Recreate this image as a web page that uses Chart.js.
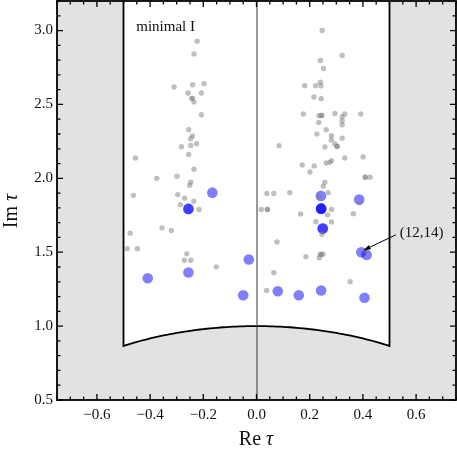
<!DOCTYPE html>
<html>
<head>
<meta charset="utf-8">
<script src="https://cdn.jsdelivr.net/npm/chart.js@4.4.1/dist/chart.umd.min.js"></script>
<style>
  body { margin: 0; background: #fff; }
  canvas { display: block; }
</style>
</head>
<body>
<canvas id="grafico" width="457" height="453"></canvas>
<script>
// puntos grises (Re tau, Im tau)
const greyX = [-0.223, -0.235, -0.310, -0.240, -0.197, -0.257, -0.207, -0.242, -0.242, -0.235,
  -0.207, -0.255, -0.241, -0.248, -0.282, -0.247, -0.225, -0.455, -0.255, -0.235,
  -0.375, -0.299, -0.247, -0.251, -0.463, -0.296, -0.270, -0.236, -0.286, -0.216,
  -0.355, -0.320, -0.475, -0.486, -0.448, -0.262, -0.271, -0.247, -0.151,
  0.247, 0.322, 0.240, 0.252, 0.181, 0.222, 0.240, 0.242, 0.216, 0.243,
  0.176, 0.235, 0.245, 0.245, 0.295, 0.322, 0.332, 0.392, 0.234, 0.322,
  0.322, 0.227, 0.262, 0.282, 0.322, 0.281, 0.295, 0.303, 0.303, 0.085,
  0.257, 0.172, 0.217, 0.262, 0.282, 0.276, 0.332, 0.401, 0.201, 0.409,
  0.409, 0.427, 0.257, 0.251, 0.269, 0.039, 0.065, 0.125, 0.018, 0.041,
  0.041, 0.166, 0.282, 0.267, 0.364, 0.223, 0.282, 0.246, 0.077, 0.186,
  0.239, 0.250, 0.243, 0.236, 0.065, 0.352, 0.038, 0.414, 0.234, 0.388];
const greyY = [2.928, 2.841, 2.618, 2.633, 2.640, 2.577, 2.577, 2.541, 2.541, 2.516,
  2.430, 2.329, 2.286, 2.268, 2.214, 2.223, 2.234, 2.138, 2.162, 2.061,
  2.000, 2.014, 1.973, 1.953, 1.885, 1.890, 1.865, 1.845, 1.822, 1.789,
  1.665, 1.647, 1.628, 1.524, 1.524, 1.489, 1.446, 1.446, 1.401,
  3.000, 2.831, 2.797, 2.743, 2.626, 2.626, 2.651, 2.626, 2.550, 2.539,
  2.435, 2.424, 2.426, 2.426, 2.439, 2.417, 2.435, 2.435, 2.378, 2.390,
  2.363, 2.300, 2.329, 2.289, 2.272, 2.260, 2.232, 2.216, 2.216, 2.221,
  2.212, 2.091, 2.084, 2.104, 2.120, 2.108, 2.138, 2.145, 2.043, 2.007,
  2.007, 2.007, 1.973, 1.946, 1.903, 1.897, 1.897, 1.903, 1.789, 1.789,
  1.789, 1.759, 1.789, 1.753, 1.761, 1.707, 1.705, 1.622, 1.569, 1.469,
  1.484, 1.486, 1.486, 1.462, 1.361, 1.300, 1.241, 1.505, 1.876, 1.834];

// puntos azules (los repetidos se ven más oscuros)
const blueX = [-0.166, -0.256, -0.256, -0.409, -0.256, -0.029, -0.050, 0.242, 0.243, 0.243,
  0.243, 0.386, 0.249, 0.249, 0.394, 0.414, 0.080, 0.159, 0.243, 0.406];
const blueY = [1.903, 1.793, 1.793, 1.324, 1.363, 1.451, 1.209, 1.881, 1.795, 1.795,
  1.795, 1.856, 1.660, 1.660, 1.500, 1.482, 1.236, 1.209, 1.241, 1.192];

const xTicks = [-0.6, -0.4, -0.2, 0.0, 0.2, 0.4, 0.6];
const yTicks = [0.5, 1.0, 1.5, 2.0, 2.5, 3.0];
const xRange = [-0.75, 0.75];
const yRange = [0.5, 3.2];

const etiqueta = '(12,14)';
const etiquetaPos = [0.539, 1.633];
const flechaDesde = [0.524, 1.618];
const flechaHasta = [0.404, 1.515];
const titulo = 'minimal I';
const tituloPos = [-0.452, 3.025];

const serif = '"Liberation Serif", "DejaVu Serif", serif';

const dominio = {
  id: 'dominio',
  beforeDatasetsDraw(chart) {
    const { ctx, chartArea: a, scales: { x, y } } = chart;
    ctx.save();
    ctx.fillStyle = '#e2e2e2';
    ctx.fillRect(a.left, a.top, a.width, a.height);

    // region fundamental |Re| <= 1/2, |tau| >= 1
    ctx.beginPath();
    ctx.moveTo(x.getPixelForValue(-0.5), a.top);
    for (let i = 0; i <= 80; i++) {
      const t = -0.5 + i / 80;
      ctx.lineTo(x.getPixelForValue(t), y.getPixelForValue(Math.sqrt(1 - t * t)));
    }
    ctx.lineTo(x.getPixelForValue(0.5), a.top);
    ctx.fillStyle = '#fff';
    ctx.fill();
    ctx.strokeStyle = '#000';
    ctx.lineWidth = 1.8;
    ctx.stroke();

    // eje Re = 0
    ctx.beginPath();
    ctx.moveTo(x.getPixelForValue(0) + 0.5, a.top);
    ctx.lineTo(x.getPixelForValue(0) + 0.5, a.bottom);
    ctx.strokeStyle = '#333';
    ctx.lineWidth = 1;
    ctx.stroke();
    ctx.restore();
  },
  afterDraw(chart) {
    const { ctx, chartArea: a, scales: { x, y } } = chart;
    ctx.save();
    ctx.strokeStyle = '#000';

    // marcas hacia dentro en los cuatro lados
    ctx.lineWidth = 1.3;
    ctx.beginPath();
    for (let k = 0; k <= 30; k++) {
      const v = xRange[0] + k * 0.05;
      const major = Math.abs(Math.round(v * 5) - v * 5) < 1e-6;
      const len = major ? 6 : 3.5;
      const px = x.getPixelForValue(v);
      ctx.moveTo(px, a.bottom); ctx.lineTo(px, a.bottom - len);
      ctx.moveTo(px, a.top); ctx.lineTo(px, a.top + len);
    }
    for (let k = 0; k <= 27; k++) {
      const v = yRange[0] + k * 0.1;
      const major = Math.abs(Math.round(v * 2) - v * 2) < 1e-6;
      const len = major ? 6 : 3.5;
      const py = y.getPixelForValue(v);
      ctx.moveTo(a.left, py); ctx.lineTo(a.left + len, py);
      ctx.moveTo(a.right, py); ctx.lineTo(a.right - len, py);
    }
    ctx.stroke();

    // marco
    ctx.lineWidth = 1.8;
    ctx.strokeRect(a.left, a.top, a.width, a.height);

    // textos
    ctx.fillStyle = '#111';
    ctx.font = '15px ' + serif;
    ctx.textBaseline = 'middle';
    ctx.textAlign = 'left';
    ctx.fillText(titulo, x.getPixelForValue(tituloPos[0]), y.getPixelForValue(tituloPos[1]));
    ctx.fillText(etiqueta, x.getPixelForValue(etiquetaPos[0]), y.getPixelForValue(etiquetaPos[1]));

    // flecha
    const x0 = x.getPixelForValue(flechaDesde[0]), y0 = y.getPixelForValue(flechaDesde[1]);
    const x1 = x.getPixelForValue(flechaHasta[0]), y1 = y.getPixelForValue(flechaHasta[1]);
    const ang = Math.atan2(y1 - y0, x1 - x0);
    ctx.lineWidth = 1;
    ctx.beginPath();
    ctx.moveTo(x0, y0);
    ctx.lineTo(x1, y1);
    ctx.stroke();
    ctx.beginPath();
    ctx.moveTo(x1, y1);
    ctx.lineTo(x1 - 7 * Math.cos(ang - 0.35), y1 - 7 * Math.sin(ang - 0.35));
    ctx.lineTo(x1 - 7 * Math.cos(ang + 0.35), y1 - 7 * Math.sin(ang + 0.35));
    ctx.closePath();
    ctx.fillStyle = '#000';
    ctx.fill();

    // titulos de ejes: "Re τ" y "Im τ"
    ctx.fillStyle = '#111';
    const drawTitle = (parts, cx, cy) => {
      let w = 0;
      parts.forEach(p => { ctx.font = p[1] + ' 20px ' + serif; w += ctx.measureText(p[0]).width; });
      let cur = cx - w / 2;
      ctx.textAlign = 'left';
      parts.forEach(p => {
        ctx.font = p[1] + ' 20px ' + serif;
        ctx.fillText(p[0], cur, cy);
        cur += ctx.measureText(p[0]).width;
      });
    };
    drawTitle([['Re ', 'normal'], ['τ', 'italic']], 256, 440);
    ctx.save();
    ctx.translate(12, 211);
    ctx.rotate(-Math.PI / 2);
    drawTitle([['Im ', 'normal'], ['τ', 'italic']], 0, 0);
    ctx.restore();

    ctx.restore();
  }
};

const fmt = v => Number(v).toFixed(1).replace('-', '\u2212');

new Chart(document.getElementById('grafico'), {
  type: 'scatter',
  data: {
    datasets: [
      {
        data: greyX.map((v, i) => ({ x: v, y: greyY[i] })),
        backgroundColor: 'rgba(128,128,128,0.5)',
        borderWidth: 0,
        pointRadius: 2.7
      },
      {
        data: blueX.map((v, i) => ({ x: v, y: blueY[i] })),
        backgroundColor: 'rgba(0,0,255,0.5)',
        borderWidth: 0,
        pointRadius: 5.3
      }
    ]
  },
  options: {
    responsive: false,
    animation: false,
    devicePixelRatio: 1,
    layout: { autoPadding: false, padding: { top: 1, right: 1, left: 0, bottom: 0 } },
    plugins: { legend: { display: false }, tooltip: { enabled: false } },
    scales: {
      x: {
        type: 'linear',
        min: xRange[0],
        max: xRange[1],
        grid: { display: false, drawTicks: false },
        border: { display: false },
        afterBuildTicks: s => { s.ticks = xTicks.map(v => ({ value: v })); },
        afterFit: s => { s.height = 53; s.paddingLeft = 0; s.paddingRight = 0; },
        ticks: { padding: 6, color: '#111', font: { family: serif, size: 15 }, callback: fmt, maxRotation: 0 }
      },
      y: {
        type: 'linear',
        min: yRange[0],
        max: yRange[1],
        grid: { display: false, drawTicks: false },
        border: { display: false },
        afterBuildTicks: s => { s.ticks = yTicks.map(v => ({ value: v })); },
        afterFit: s => { s.width = 57; s.paddingTop = 0; s.paddingBottom = 0; },
        ticks: { padding: 4, color: '#111', font: { family: serif, size: 15 }, callback: fmt }
      }
    }
  },
  plugins: [dominio]
});
</script>
</body>
</html>
